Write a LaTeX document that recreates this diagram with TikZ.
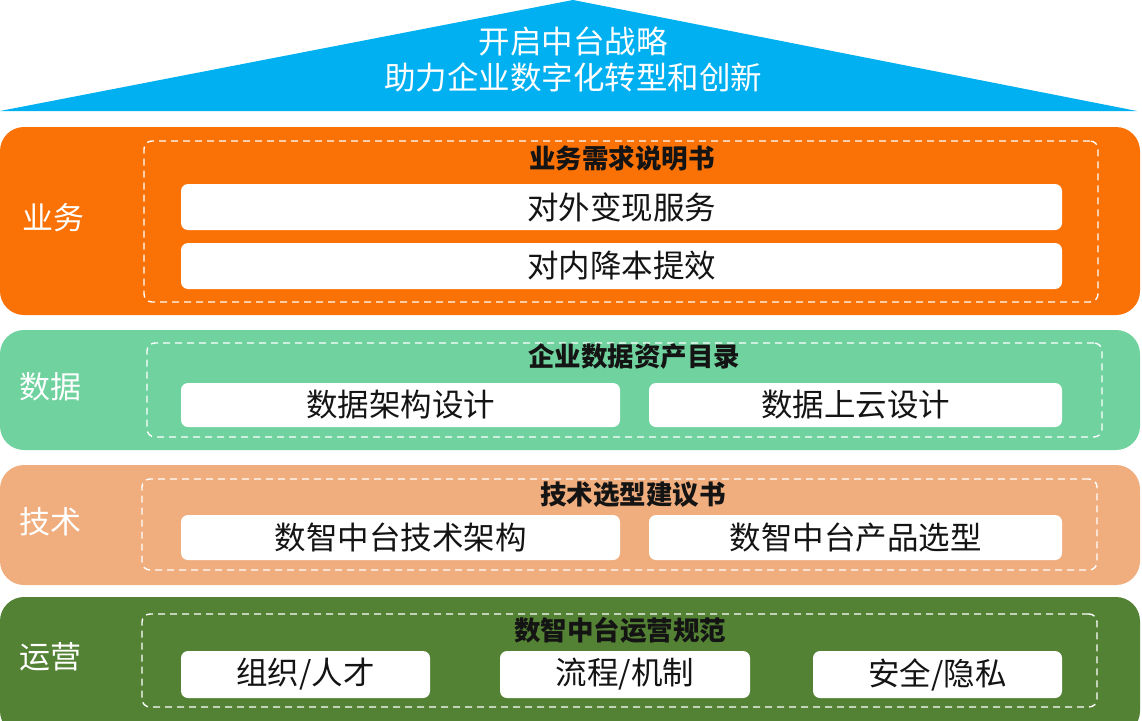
\documentclass[tikz,border=0pt]{standalone}
\usepackage{fontspec}
\setmainfont{Noto Sans CJK SC}
\definecolor{topblue}{RGB}{0,176,240}
\definecolor{bandA}{RGB}{250,113,5}
\definecolor{bandB}{RGB}{112,210,158}
\definecolor{bandC}{RGB}{240,173,126}
\definecolor{bandD}{RGB}{84,130,53}
\definecolor{txt}{RGB}{20,20,20}
\tikzset{
  band/.style={rounded corners=24pt, inner sep=0pt, minimum width=1140pt, draw=none},
  dashbox/.style={draw=white, line width=1.4pt, dash pattern=on 7pt off 5pt, rounded corners=8pt, inner sep=0pt},
  whitebox/.style={fill=white, rounded corners=7pt, inner sep=0pt, text=txt, font=\fontsize{31.5}{34}\selectfont},
  ttl/.style={text=txt, inner sep=0pt, font=\fontsize{26.5}{29}\selectfont\bfseries},
  lbl/.style={text=white, inner sep=0pt, font=\fontsize{31}{33}\selectfont},
}
\begin{document}
\begin{tikzpicture}[x=1pt,y=-1pt]
\useasboundingbox (0,0) rectangle (1142,720);
\clip (0,0) rectangle (1142,720);
% roof
\coordinate (tl) at (0,111);
\coordinate (tt) at (573,0);
\coordinate (tr) at (1137,111);
\fill[topblue] (tl) -- (tt) -- (tr) -- cycle;
\node[text=white, align=center, font=\fontsize{31.5}{36}\selectfont] (roof) at (573,60) {开启中台战略\\助力企业数字化转型和创新};
% band 1
\node[band, fill=bandA, minimum height=188pt] (b1) at (570,221) {};
\node[dashbox, minimum width=954pt, minimum height=161pt] (d1) at (621,221.5) {};
\node[ttl] (t1) at (622,158) {业务需求说明书};
\node[whitebox, minimum width=881pt, minimum height=46pt] (w1a) at (621.5,207) {对外变现服务};
\node[whitebox, minimum width=881pt, minimum height=46pt] (w1b) at (621.5,266) {对内降本提效};
\node[lbl] (l1) at (53,218) {业务};
% band 2
\node[band, fill=bandB, minimum height=120pt] (b2) at (570,390) {};
\node[dashbox, minimum width=955pt, minimum height=94pt] (d2) at (624.5,390) {};
\node[ttl] (t2) at (634,357) {企业数据资产目录};
\node[whitebox, minimum width=439pt, minimum height=44pt] (w2a) at (400.5,405) {数据架构设计};
\node[whitebox, minimum width=413pt, minimum height=44pt] (w2b) at (855.5,405) {数据上云设计};
\node[lbl] (l2) at (50,387) {数据};
% band 3
\node[band, fill=bandC, minimum height=120pt] (b3) at (570,525) {};
\node[dashbox, minimum width=955pt, minimum height=91pt] (d3) at (619.5,524.5) {};
\node[ttl] (t3) at (633,495) {技术选型建议书};
\node[whitebox, minimum width=439pt, minimum height=45pt] (w3a) at (400.5,537.5) {数智中台技术架构};
\node[whitebox, minimum width=413pt, minimum height=45pt] (w3b) at (855.5,537.5) {数智中台产品选型};
\node[lbl] (l3) at (50,522) {技术};
% band 4
\node[band, fill=bandD, minimum height=138pt] (b4) at (570,666) {};
\node[dashbox, minimum width=955pt, minimum height=93pt] (d4) at (619.5,660.5) {};
\node[ttl] (t4) at (620,630) {数智中台运营规范};
\node[whitebox, minimum width=249pt, minimum height=47pt] (w4a) at (305.5,674.5) {组织/人才};
\node[whitebox, minimum width=250pt, minimum height=47pt] (w4b) at (625,674.5) {流程/机制};
\node[whitebox, minimum width=249pt, minimum height=47pt] (w4c) at (937.5,674.5) {安全/隐私};
\node[lbl] (l4) at (50,657) {运营};
\end{tikzpicture}
\end{document}
